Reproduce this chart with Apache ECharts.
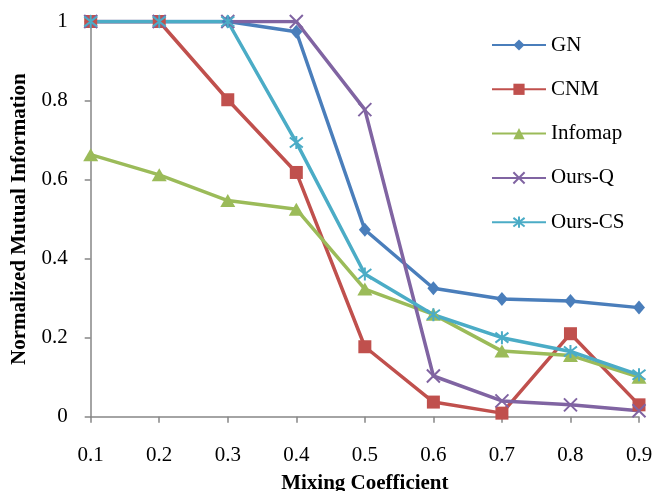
<!DOCTYPE html>
<html>
<head>
<meta charset="utf-8">
<script src="https://cdn.jsdelivr.net/npm/echarts@6/dist/echarts.min.js"></script>
<style>html,body{margin:0;padding:0;background:#fff;}#c{width:652px;height:491px;}</style>
</head>
<body>
<div id="c"></div>
<script>
var categories = ['0.1','0.2','0.3','0.4','0.5','0.6','0.7','0.8','0.9'];
var gn      = [1, 1, 1, 0.974, 0.473, 0.325, 0.298, 0.293, 0.276];
var cnm     = [1, 1, 0.802, 0.618, 0.177, 0.037, 0.009, 0.210, 0.030];
var infomap = [0.663, 0.612, 0.547, 0.525, 0.323, 0.259, 0.166, 0.155, 0.100];
var oursQ   = [1, 1, 1, 1, 0.777, 0.103, 0.040, 0.030, 0.015];
var oursCS  = [1, 1, 1, 0.694, 0.361, 0.258, 0.200, 0.165, 0.106];
var seriesNames = ['GN','CNM','Infomap','Ours-Q','Ours-CS'];

var FONT = 'Liberation Serif';
var crossPath = 'path://M0,0L10,10M10,0L0,10';
var starPath = 'path://M0,0L10,10M10,0L0,10M5,-1.5L5,11.5';

function mk(name, data, color, symbol, size, stroke) {
  return {
    name: name, type: 'line', data: data,
    symbol: symbol, symbolSize: size,
    showAllSymbol: true,
    lineStyle: {color: color, width: 3.5},
    itemStyle: stroke ? {color: color, borderColor: color, borderWidth: 2} : {color: color},
    emphasis: {disabled: true},
    animation: false
  };
}

var chart = echarts.init(document.getElementById('c'), null, {renderer: 'canvas'});
chart.setOption({
  backgroundColor: '#fff',
  animation: false,
  textStyle: {fontFamily: FONT, color: '#000'},
  grid: {left: 90.7, right: 13, top: 21.5, bottom: 74.3, containLabel: false, outerBoundsMode: 'none'},
  legend: {
    orient: 'vertical',
    left: 486, top: 29.5,
    itemWidth: 54, itemHeight: 14, itemGap: 23.3,
    data: seriesNames,
    textStyle: {fontFamily: FONT, fontSize: 21, color: '#000', lineHeight: 20},
    selectedMode: false
  },
  xAxis: {
    type: 'category', data: categories, boundaryGap: false,
    axisLine: {lineStyle: {color: '#868686', width: 1.5}},
    axisTick: {show: true, alignWithLabel: true, length: 6, lineStyle: {color: '#868686', width: 1.5}},
    axisLabel: {fontFamily: FONT, fontSize: 21, color: '#000', margin: 28},
    name: 'Mixing Coefficient', nameLocation: 'middle', nameGap: 56,
    nameTextStyle: {fontFamily: FONT, fontSize: 21, fontWeight: 'bold', color: '#000', verticalAlign: 'top'}
  },
  yAxis: {
    type: 'value', min: 0, max: 1, interval: 0.2,
    splitLine: {show: false},
    axisLine: {show: true, lineStyle: {color: '#868686', width: 1.5}},
    axisTick: {show: true, length: 6, lineStyle: {color: '#868686', width: 1.5}},
    axisLabel: {fontFamily: FONT, fontSize: 21, color: '#000', margin: 23},
    name: 'Normalized Mutual Information', nameLocation: 'middle', nameGap: 57,
    nameTextStyle: {fontFamily: FONT, fontSize: 21, fontWeight: 'bold', color: '#000'}
  },
  series: [
    mk('GN', gn, '#4A7EBB', 'diamond', [12, 14], false),
    mk('CNM', cnm, '#C0504D', 'rect', 13, false),
    mk('Infomap', infomap, '#9BBB59', 'triangle', [15, 13], false),
    mk('Ours-Q', oursQ, '#8064A2', crossPath, 13, true),
    mk('Ours-CS', oursCS, '#4BACC6', starPath, 13, true)
  ]
});
</script>
</body>
</html>
